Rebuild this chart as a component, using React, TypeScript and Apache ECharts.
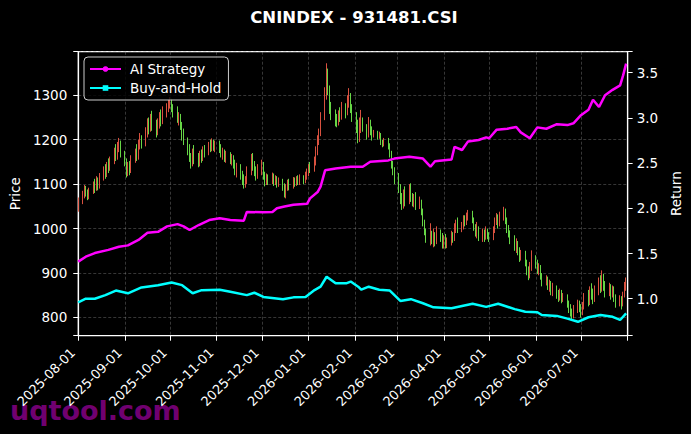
import * as echarts from 'echarts';
import { useEffect, useRef } from 'react';

const chartTitle = 'CNINDEX - 931481.CSI';
const xStart = '2025-08-01';
const xEnd = '2026-08-01';

// daily candles per month, one row per weekday: [open, close, low, high]
const aug25 = [
  [1045, 1062, 1038, 1070], [1062, 1075, 1055, 1085], [1075, 1090, 1068, 1098], [1090, 1080, 1072, 1096],
  [1080, 1072, 1064, 1088], [1072, 1085, 1066, 1092], [1085, 1098, 1078, 1106], [1098, 1090, 1080, 1112],
  [1090, 1105, 1085, 1118], [1105, 1095, 1086, 1115], [1095, 1115, 1090, 1125], [1115, 1130, 1108, 1140],
  [1130, 1122, 1112, 1145], [1122, 1140, 1116, 1150], [1140, 1135, 1125, 1158], [1135, 1150, 1130, 1162],
  [1150, 1170, 1145, 1182], [1170, 1160, 1152, 1190], [1160, 1185, 1155, 1195], [1185, 1190, 1172, 1204],
  [1190, 1168, 1160, 1198],
];
const sep25 = [
  [1168, 1150, 1140, 1175], [1150, 1125, 1115, 1158], [1125, 1140, 1118, 1150], [1140, 1130, 1120, 1152],
  [1130, 1155, 1125, 1165], [1155, 1170, 1148, 1180], [1170, 1160, 1152, 1190], [1160, 1185, 1155, 1200],
  [1185, 1200, 1178, 1215], [1200, 1190, 1180, 1210], [1190, 1215, 1185, 1228], [1215, 1235, 1205, 1248],
  [1235, 1225, 1212, 1250], [1225, 1245, 1218, 1258], [1245, 1230, 1220, 1265], [1230, 1215, 1205, 1245],
  [1215, 1235, 1210, 1248], [1235, 1250, 1225, 1262], [1250, 1240, 1230, 1268], [1240, 1262, 1235, 1275],
  [1262, 1270, 1250, 1282], [1270, 1280, 1262, 1290],
];
const oct25 = [
  [1280, 1288, 1270, 1296], [1288, 1272, 1262, 1292], [1272, 1260, 1250, 1280], [1260, 1245, 1238, 1275],
  [1245, 1250, 1232, 1262], [1250, 1230, 1222, 1258], [1230, 1210, 1198, 1240], [1210, 1195, 1188, 1225],
  [1195, 1175, 1165, 1205], [1175, 1160, 1150, 1190], [1160, 1150, 1135, 1170], [1150, 1165, 1140, 1180],
  [1165, 1155, 1145, 1188], [1155, 1145, 1138, 1170], [1145, 1165, 1140, 1175], [1165, 1160, 1148, 1178],
  [1160, 1175, 1152, 1185], [1175, 1170, 1160, 1188], [1170, 1185, 1165, 1195], [1185, 1180, 1172, 1200],
  [1180, 1190, 1174, 1203], [1190, 1182, 1175, 1200], [1182, 1188, 1172, 1198],
];
const nov25 = [
  [1188, 1180, 1170, 1198], [1180, 1168, 1160, 1190], [1168, 1172, 1155, 1182], [1172, 1160, 1150, 1178],
  [1160, 1165, 1148, 1175], [1165, 1155, 1145, 1172], [1155, 1158, 1142, 1168], [1158, 1145, 1135, 1165],
  [1145, 1130, 1120, 1155], [1130, 1138, 1115, 1148], [1138, 1120, 1110, 1145], [1120, 1110, 1098, 1130],
  [1110, 1100, 1090, 1122], [1100, 1108, 1092, 1118], [1108, 1130, 1100, 1140], [1130, 1155, 1120, 1168],
  [1155, 1145, 1130, 1170], [1145, 1130, 1118, 1152], [1130, 1120, 1108, 1140], [1120, 1135, 1112, 1145],
];
const dec25 = [
  [1135, 1140, 1120, 1155], [1140, 1120, 1110, 1150], [1120, 1105, 1095, 1128], [1105, 1115, 1098, 1124],
  [1115, 1108, 1098, 1122], [1108, 1118, 1100, 1126], [1118, 1105, 1096, 1124], [1105, 1112, 1098, 1120],
  [1112, 1100, 1092, 1118], [1100, 1108, 1094, 1115], [1108, 1095, 1085, 1112], [1095, 1080, 1070, 1102],
  [1080, 1092, 1068, 1100], [1092, 1100, 1085, 1110], [1100, 1095, 1086, 1112], [1095, 1108, 1090, 1116],
  [1108, 1102, 1094, 1115], [1102, 1110, 1096, 1118], [1110, 1105, 1098, 1120], [1105, 1112, 1098, 1122],
  [1112, 1108, 1100, 1120], [1108, 1118, 1102, 1128], [1118, 1125, 1110, 1135],
];
const jan26 = [
  [1125, 1138, 1118, 1145], [1138, 1132, 1125, 1150], [1132, 1150, 1128, 1162], [1150, 1172, 1142, 1185],
  [1172, 1195, 1165, 1210], [1195, 1215, 1188, 1225], [1215, 1250, 1208, 1262], [1250, 1300, 1244, 1318],
  [1300, 1350, 1290, 1372], [1350, 1315, 1300, 1360], [1315, 1270, 1258, 1322], [1270, 1255, 1244, 1285],
  [1255, 1245, 1230, 1268], [1245, 1238, 1228, 1258], [1238, 1255, 1232, 1266], [1255, 1250, 1240, 1273],
  [1250, 1270, 1245, 1285], [1270, 1262, 1248, 1282], [1262, 1288, 1255, 1300], [1288, 1295, 1272, 1316],
  [1295, 1270, 1260, 1305], [1270, 1250, 1240, 1280],
];
const feb26 = [
  [1250, 1230, 1215, 1262], [1230, 1205, 1192, 1245], [1205, 1225, 1195, 1250], [1225, 1240, 1215, 1267],
  [1240, 1228, 1218, 1250], [1228, 1215, 1200, 1235], [1215, 1238, 1205, 1251], [1238, 1220, 1210, 1245],
  [1220, 1210, 1198, 1230], [1210, 1215, 1205, 1222], [1215, 1208, 1200, 1220], [1208, 1212, 1202, 1218],
  [1212, 1195, 1188, 1215], [1195, 1190, 1183, 1200], [1190, 1198, 1185, 1204], [1198, 1185, 1178, 1204],
  [1185, 1170, 1160, 1192], [1170, 1145, 1135, 1175], [1145, 1130, 1120, 1152], [1130, 1115, 1100, 1138],
];
const mar26 = [
  [1115, 1090, 1080, 1125], [1090, 1065, 1055, 1100], [1065, 1050, 1042, 1080], [1050, 1075, 1045, 1088],
  [1075, 1060, 1050, 1095], [1060, 1085, 1055, 1100], [1085, 1070, 1060, 1102], [1070, 1058, 1050, 1080],
  [1058, 1065, 1048, 1078], [1065, 1050, 1042, 1082], [1050, 1060, 1044, 1072], [1060, 1040, 1030, 1065],
  [1040, 1015, 1005, 1045], [1015, 995, 985, 1020], [995, 980, 968, 1000], [980, 990, 962, 1012],
  [990, 975, 965, 995], [975, 985, 958, 1000], [985, 970, 960, 992], [970, 990, 965, 1005],
  [990, 980, 970, 998], [980, 965, 955, 990],
];
const apr26 = [
  [965, 975, 955, 985], [975, 962, 955, 988], [962, 970, 956, 980], [970, 985, 962, 995],
  [985, 978, 968, 992], [978, 1000, 972, 1012], [1000, 1010, 990, 1020], [1010, 998, 990, 1025],
  [998, 1005, 992, 1015], [1005, 1020, 998, 1030], [1020, 1012, 1005, 1030], [1012, 1025, 1008, 1036],
  [1025, 1035, 1018, 1042], [1035, 1020, 1012, 1040], [1020, 1005, 995, 1025], [1005, 990, 982, 1010],
  [990, 1000, 978, 1015], [1000, 985, 972, 1005], [985, 992, 970, 1000], [992, 980, 970, 998],
  [980, 995, 975, 1005], [995, 985, 976, 1000],
];
const may26 = [
  [985, 978, 970, 992], [978, 995, 974, 1005], [995, 1015, 990, 1025], [1015, 1028, 1008, 1035],
  [1028, 1010, 1000, 1032], [1010, 1025, 1005, 1038], [1025, 1035, 1018, 1049], [1035, 1018, 1010, 1045],
  [1018, 1000, 990, 1025], [1000, 990, 980, 1008], [990, 975, 965, 996], [975, 960, 950, 985],
  [960, 968, 945, 978], [968, 950, 940, 972], [950, 935, 925, 958], [935, 945, 928, 952],
  [945, 925, 915, 950], [925, 905, 895, 930], [905, 892, 884, 915], [892, 915, 888, 925],
  [915, 935, 905, 951],
];
const jun26 = [
  [935, 920, 910, 940], [920, 905, 898, 930], [905, 912, 895, 922], [912, 895, 885, 918],
  [895, 880, 870, 900], [880, 888, 872, 895], [888, 870, 862, 892], [870, 875, 858, 885],
  [875, 860, 850, 882], [860, 868, 848, 878], [868, 852, 842, 872], [852, 845, 835, 862],
  [845, 858, 838, 865], [858, 842, 832, 862], [842, 848, 835, 855], [848, 832, 822, 852],
  [832, 820, 810, 838], [820, 812, 802, 830], [812, 805, 795, 820], [805, 818, 798, 828],
  [818, 830, 810, 840], [830, 822, 812, 838],
];
const jul26 = [
  [822, 810, 800, 830], [810, 825, 805, 835], [825, 845, 818, 855], [845, 835, 825, 862],
  [835, 858, 828, 870], [858, 850, 840, 877], [850, 840, 830, 865], [840, 860, 835, 872],
  [860, 878, 850, 890], [878, 865, 855, 895], [865, 890, 858, 906], [890, 870, 860, 898],
  [870, 855, 845, 882], [855, 868, 848, 878], [868, 850, 840, 875], [850, 865, 845, 872],
  [865, 845, 835, 870], [845, 830, 822, 852], [830, 842, 825, 850], [842, 828, 818, 848],
  [828, 850, 825, 858], [850, 868, 845, 880], [868, 880, 860, 890],
];

// [year, month (0-based), rows]
const months: [number, number, number[][]][] = [
  [2025, 7, aug25], [2025, 8, sep25], [2025, 9, oct25], [2025, 10, nov25],
  [2025, 11, dec25], [2026, 0, jan26], [2026, 1, feb26], [2026, 2, mar26],
  [2026, 3, apr26], [2026, 4, may26], [2026, 5, jun26], [2026, 6, jul26],
];

const aiStrategy: [string, number][] = [
  ['2025-08-01', 1.41], ['2025-08-06', 1.465], ['2025-08-12', 1.505], ['2025-08-21', 1.54],
  ['2025-08-28', 1.575], ['2025-09-03', 1.59], ['2025-09-10', 1.65], ['2025-09-16', 1.73],
  ['2025-09-23', 1.74], ['2025-09-29', 1.8], ['2025-10-06', 1.825], ['2025-10-10', 1.8],
  ['2025-10-14', 1.76], ['2025-10-20', 1.815], ['2025-10-27', 1.87], ['2025-11-03', 1.89],
  ['2025-11-10', 1.87], ['2025-11-19', 1.863], ['2025-11-21', 1.96], ['2025-12-02', 1.955],
  ['2025-12-08', 1.96], ['2025-12-11', 2.0], ['2025-12-16', 2.02], ['2025-12-22', 2.04],
  ['2025-12-31', 2.05], ['2026-01-02', 2.11], ['2026-01-07', 2.18], ['2026-01-09', 2.24],
  ['2026-01-12', 2.42], ['2026-01-19', 2.44], ['2026-01-29', 2.46], ['2026-02-06', 2.46],
  ['2026-02-11', 2.515], ['2026-02-23', 2.53], ['2026-02-27', 2.55], ['2026-03-09', 2.57],
  ['2026-03-18', 2.55], ['2026-03-23', 2.46], ['2026-03-26', 2.52], ['2026-04-06', 2.54],
  ['2026-04-08', 2.68], ['2026-04-13', 2.645], ['2026-04-17', 2.74], ['2026-04-24', 2.755],
  ['2026-04-29', 2.785], ['2026-05-01', 2.775], ['2026-05-06', 2.87], ['2026-05-13', 2.88],
  ['2026-05-19', 2.9], ['2026-05-22', 2.84], ['2026-05-28', 2.775], ['2026-06-02', 2.895],
  ['2026-06-08', 2.88], ['2026-06-15', 2.93], ['2026-06-22', 2.92], ['2026-06-26', 2.94],
  ['2026-07-01', 3.03], ['2026-07-06', 3.09], ['2026-07-09', 3.2], ['2026-07-13', 3.12],
  ['2026-07-17', 3.25], ['2026-07-22', 3.31], ['2026-07-27', 3.36], ['2026-07-29', 3.47],
  ['2026-07-31', 3.6],
];

const buyAndHold: [string, number][] = [
  ['2025-08-01', 0.96], ['2025-08-06', 1.0], ['2025-08-12', 1.0], ['2025-08-19', 1.04],
  ['2025-08-26', 1.09], ['2025-09-03', 1.06], ['2025-09-12', 1.125], ['2025-09-23', 1.15],
  ['2025-10-02', 1.18], ['2025-10-09', 1.15], ['2025-10-16', 1.06], ['2025-10-22', 1.095],
  ['2025-11-03', 1.1], ['2025-11-10', 1.077], ['2025-11-21', 1.04], ['2025-11-26', 1.066],
  ['2025-12-02', 1.02], ['2025-12-15', 0.993], ['2025-12-22', 1.015], ['2025-12-30', 1.02],
  ['2026-01-05', 1.096], ['2026-01-09', 1.133], ['2026-01-13', 1.243], ['2026-01-19', 1.17],
  ['2026-01-26', 1.17], ['2026-01-29', 1.19], ['2026-02-03', 1.133], ['2026-02-05', 1.1],
  ['2026-02-10', 1.133], ['2026-02-17', 1.1], ['2026-02-24', 1.09], ['2026-03-03', 0.975],
  ['2026-03-10', 0.995], ['2026-03-18', 0.95], ['2026-03-25', 0.905], ['2026-04-06', 0.895],
  ['2026-04-13', 0.92], ['2026-04-20', 0.945], ['2026-04-29', 0.91], ['2026-05-07', 0.945],
  ['2026-05-18', 0.885], ['2026-05-25', 0.856], ['2026-06-02', 0.85], ['2026-06-05', 0.82],
  ['2026-06-15', 0.81], ['2026-06-22', 0.78], ['2026-06-29', 0.745], ['2026-07-06', 0.795],
  ['2026-07-14', 0.82], ['2026-07-22', 0.8], ['2026-07-27', 0.765], ['2026-07-31', 0.838],
];

const priceRange = [759, 1398];
const returnRange = [0.591, 3.732];

const upColor = '#f25a46';
const downColor = '#72ee4e';
const gridLine = { show: true, lineStyle: { color: 'rgba(150,150,150,0.45)', type: [3, 2], width: 0.8 } };
const font = 'DejaVu Sans';

function weekdays(year: number, month: number) {
  const days: number[] = [];
  const d = new Date(year, month, 1);
  while (d.getMonth() === month) {
    const wd = d.getDay();
    if (wd !== 0 && wd !== 6) days.push(d.getTime());
    d.setDate(d.getDate() + 1);
  }
  return days;
}

const candleData = months.flatMap(([y, m, rows]) => {
  const days = weekdays(y, m);
  return rows.map((r, i) => [days[i], ...r]);
});

const pad2 = (n: number) => (n < 10 ? '0' + n : String(n));
const endTime = new Date(2026, 7, 1).getTime();

function dateLabel(v: number) {
  if (v >= endTime - 3600000) return '';
  const d = new Date(v);
  return `${d.getFullYear()}-${pad2(d.getMonth() + 1)}-${pad2(d.getDate())}`;
}

export default function App() {
  const chartRef = useRef<HTMLDivElement>(null);

  useEffect(() => {
    if (!chartRef.current) return;
    const chart = echarts.init(chartRef.current, null, { renderer: 'svg' });

    chart.setOption({
      animation: false,
      backgroundColor: '#000000',
      title: {
        text: chartTitle,
        left: 354,
        top: 9,
        padding: 0,
        textAlign: 'center',
        textStyle: { color: '#ffffff', fontSize: 16.5, fontWeight: 'bold', fontFamily: font },
      },
      legend: {
        orient: 'vertical',
        left: 84,
        top: 57,
        padding: [5, 7, 5, 5],
        itemGap: 5,
        itemWidth: 31,
        itemHeight: 7,
        backgroundColor: 'rgba(0,0,0,0.8)',
        borderColor: '#cccccc',
        borderWidth: 1,
        borderRadius: 4,
        data: ['AI Strategy', 'Buy-and-Hold'],
        textStyle: { color: '#ffffff', fontSize: 13.5, fontFamily: font, padding: [0, 0, 0, 4] },
      },
      grid: {
        left: 77.5,
        right: 60.3,
        top: 51.7,
        bottom: 98.3,
        show: true,
        borderColor: '#ffffff',
        borderWidth: 1.2,
      },
      xAxis: {
        type: 'time',
        min: xStart,
        max: xEnd,
        splitNumber: 12,
        axisLine: { lineStyle: { color: '#ffffff', width: 1.2 } },
        axisTick: { length: 5, lineStyle: { color: '#ffffff' } },
        axisLabel: {
          color: '#ffffff',
          fontSize: 13,
          fontFamily: font,
          rotate: 45,
          margin: 9.5,
          padding: [0, 7.5, 0, 0],
          formatter: dateLabel,
        },
        splitLine: gridLine,
      },
      yAxis: [
        {
          type: 'value',
          position: 'left',
          min: priceRange[0],
          max: priceRange[1],
          splitNumber: 6,
          name: 'Price',
          nameLocation: 'middle',
          nameRotate: 90,
          nameGap: 46,
          nameTextStyle: { color: '#ffffff', fontSize: 13.5, fontFamily: font },
          axisLine: { show: true, lineStyle: { color: '#ffffff', width: 1.2 } },
          axisTick: { show: true, length: 5, lineStyle: { color: '#ffffff' } },
          axisLabel: {
            color: '#ffffff',
            fontSize: 13.5,
            fontFamily: font,
            margin: 11,
            formatter: (v: number) => (v % 100 === 0 ? String(v) : ''),
          },
          splitLine: gridLine,
        },
        {
          type: 'value',
          position: 'right',
          min: returnRange[0],
          max: returnRange[1],
          splitNumber: 6,
          name: 'Return',
          nameLocation: 'middle',
          nameRotate: 90,
          nameGap: 35,
          nameTextStyle: { color: '#ffffff', fontSize: 13.5, fontFamily: font },
          axisLine: { show: true, lineStyle: { color: '#ffffff', width: 1.2 } },
          axisTick: { show: true, length: 5, lineStyle: { color: '#ffffff' } },
          axisLabel: {
            color: '#ffffff',
            fontSize: 13.5,
            fontFamily: font,
            margin: 9,
            formatter: (v: number) =>
              Math.abs(v * 2 - Math.round(v * 2)) < 1e-6 ? v.toFixed(1) : '',
          },
          splitLine: { show: false },
        },
      ],
      graphic: {
        elements: [
          {
            type: 'text',
            x: 10,
            y: 410,
            z: -10,
            style: {
              text: 'uqtool.com',
              fill: '#800080',
              opacity: 0.9,
              fontSize: 27,
              fontWeight: 'bold',
              fontFamily: font,
              verticalAlign: 'middle',
            },
          },
        ],
      },
      series: [
        {
          name: 'Price',
          type: 'candlestick',
          xAxisIndex: 0,
          yAxisIndex: 0,
          barWidth: 1,
          data: candleData,
          itemStyle: {
            color: upColor,
            color0: downColor,
            borderColor: upColor,
            borderColor0: downColor,
            borderWidth: 0.9,
          },
        },
        {
          name: 'AI Strategy',
          type: 'line',
          yAxisIndex: 1,
          data: aiStrategy,
          symbol: 'circle',
          showSymbol: false,
          lineStyle: { color: '#ff00ff', width: 2.5 },
          itemStyle: { color: '#ff00ff' },
        },
        {
          name: 'Buy-and-Hold',
          type: 'line',
          yAxisIndex: 1,
          data: buyAndHold,
          symbol: 'rect',
          showSymbol: false,
          lineStyle: { color: '#00ffff', width: 2.5 },
          itemStyle: { color: '#00ffff' },
        },
      ],
    });

    return () => chart.dispose();
  }, []);

  return (
    <div
      ref={chartRef}
      style={{ position: 'fixed', left: 0, top: 0, width: 691, height: 434 }}
    />
  );
}
